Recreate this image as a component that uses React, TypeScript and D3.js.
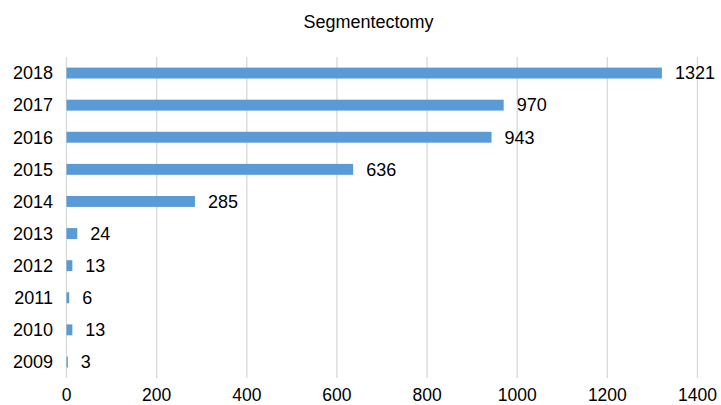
import React from "react";
import * as d3 from "d3";

const years = ["2018", "2017", "2016", "2015", "2014", "2013", "2012", "2011", "2010", "2009"];
const counts = [1321, 970, 943, 636, 285, 24, 13, 6, 13, 3];
const xTicks = [0, 200, 400, 600, 800, 1000, 1200, 1400];
const title = "Segmentectomy";

const W = 721;
const H = 405;
const left = 66.5;
const right = 697.5;
const top = 57;
const bottom = 378;
const font = "'Liberation Sans', Arial, Helvetica, sans-serif";

export default function App() {
  const x = d3.scaleLinear().domain([0, 1400]).range([left, right]);
  const y = d3.scaleBand<string>().domain(years).range([top, bottom]).paddingInner(0.66).paddingOuter(0.33);

  return (
    <svg width={W} height={H} style={{ position: "absolute", left: 0, top: 0, background: "#fff" }}>
      <text x={368.5} y={28} textAnchor="middle" fontFamily={font} fontSize={18} fill="#000">
        {title}
      </text>
      {xTicks.map((t) => (
        <g key={t}>
          <line x1={x(t)} x2={x(t)} y1={top} y2={bottom} stroke="#d9d9d9" strokeWidth={1.3} />
          <text x={x(t)} y={401} textAnchor="middle" fontFamily={font} fontSize={17.5} fill="#000">
            {t}
          </text>
        </g>
      ))}
      {years.map((yr, i) => {
        const by = y(yr)!;
        const bh = y.bandwidth();
        const cy = by + bh / 2;
        return (
          <g key={yr}>
            <rect x={x(0)} y={by} width={x(counts[i]) - x(0)} height={bh} fill="#5b9bd5" />
            <text x={53} y={cy} dy="0.35em" textAnchor="end" fontFamily={font} fontSize={18} fill="#000">
              {yr}
            </text>
            <text x={x(counts[i]) + 13} y={cy} dy="0.35em" fontFamily={font} fontSize={18} fill="#000">
              {counts[i]}
            </text>
          </g>
        );
      })}
    </svg>
  );
}
